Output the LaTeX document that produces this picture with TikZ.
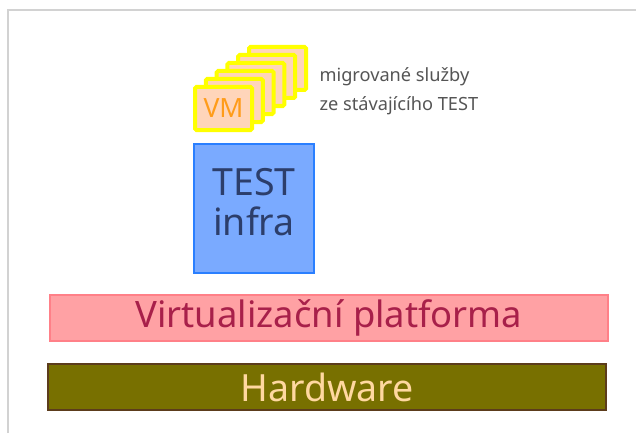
\documentclass[tikz,border=0pt]{standalone}
\usepackage{fontspec}
\setmainfont{Noto Sans}
\usepackage{tikz}
\usetikzlibrary{calc}

\definecolor{vmfill}{HTML}{FFD5BA}
\definecolor{vmline}{HTML}{FFFF00}
\definecolor{vmtext}{HTML}{FF9C1A}
\definecolor{testfill}{HTML}{7AAAFF}
\definecolor{testline}{HTML}{2A7FFF}
\definecolor{testtext}{HTML}{2C3E6B}
\definecolor{virtfill}{HTML}{FFA1A4}
\definecolor{virtline}{HTML}{FF8088}
\definecolor{virttext}{HTML}{A8204A}
\definecolor{hwfill}{HTML}{787000}
\definecolor{hwline}{HTML}{5C3C1C}
\definecolor{hwtext}{HTML}{FFD8A0}
\definecolor{notetext}{HTML}{555555}
\definecolor{framegray}{HTML}{D2D2D2}

\begin{document}
\begin{tikzpicture}[x=1pt,y=-1pt]
\tikzset{
	vm box/.style = {rectangle, draw = vmline, fill = vmfill, line width = 4pt,
		rounded corners = 1.5pt, minimum width = 57pt, minimum height = 43pt,
		inner sep = 0, text = vmtext, font = \fontsize{26.5}{30}\selectfont},
	layer box/.style = {rectangle, draw, line width = 2pt, inner sep = 0,
		minimum width = 558pt, minimum height = 46pt},
}

\useasboundingbox (0,0) rectangle (636,433);
\draw[framegray, line width = 2pt] (8,433) -- (8,10.5) -- (636,10.5);

% stack of VMs, back to front
\foreach \i in {5,...,1}
	\node(vm\i)[vm box] at ($(223.5,108.5)+(10.8*\i,-8*\i)$) {};
\node(vm0)[vm box] at (223.5,108.5) {VM};

\node(note)[anchor = west, align = left, text = notetext,
	font = \fontsize{18.2}{29}\selectfont] at (316,91)
	{migrované služby\\ze stávajícího TEST};

\node(test)[rectangle, draw = testline, fill = testfill, line width = 2pt,
	minimum width = 120pt, minimum height = 129pt, inner sep = 0,
	align = center, text depth = 14pt, text = testtext,
	font = \fontsize{37.5}{40}\selectfont]
	at (254,208.5) {TEST\\infra};

\node(virt)[layer box, draw = virtline, fill = virtfill, text = virttext,
	font = \fontsize{36.4}{42}\selectfont]
	at (329,317.5) {Virtualizační platforma};
\node(hw)[layer box, draw = hwline, fill = hwfill, text = hwtext,
	font = \fontsize{37.5}{42}\selectfont]
	at (327,387) {Hardware};

\end{tikzpicture}
\end{document}
